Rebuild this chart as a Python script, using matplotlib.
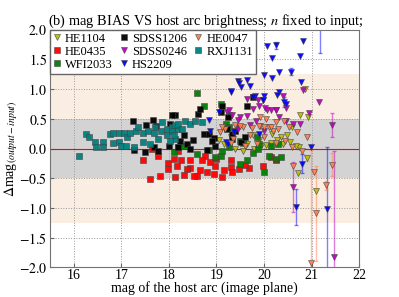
import numpy as np
import matplotlib
matplotlib.use('Agg')
import matplotlib.pyplot as plt

plt.rcParams['font.family'] = ['Liberation Serif', 'DejaVu Serif']
plt.rcParams['mathtext.fontset'] = 'stix'
plt.rcParams['font.size'] = 8.6

# --- data (mag of host arc, delta mag, error) ---
he1104_x = [20.86, 20.92, 20.75, 20.59, 20.48, 20.17, 20.35, 19.76, 19.93, 20.55, 20.73, 20.9, 20.71,
            21.1, 20.68, 19.05, 19.16, 19.3, 19.65, 19.8, 19.9, 20.05, 20.15, 20.28, 20.4, 19.4, 19.55]
he1104_y = [1.0, 0.53, 0.56, 0.36, 0.22, 0.25, 0.19, 0.22, 0.05, 0.11, 0.02, -0.16, -0.42,
            -0.72, 0.05, 0.15, 0.08, 0.2, 0.08, 0.0, 0.14, 0.06, 0.1, 0.15, 0.08, 0.0, -0.05]
he1104_e = [0, 0, 0, 0, 0, 0, 0, 0, 0, 0, 0, 0.05, 0,
            0, 0, 0, 0, 0, 0, 0, 0, 0, 0, 0, 0, 0, 0]

he0435_x = [17.46, 17.6, 17.82, 17.78, 17.65, 17.98, 17.98, 18.12, 18.17, 18.31, 18.45, 18.45, 18.59,
            18.26, 18.38, 18.52, 18.66, 18.77, 18.87, 18.98, 19.12, 19.16, 19.3, 19.3, 19.47, 19.69,
            19.97, 20.15, 20.25, 18.8, 19.33, 18.2, 18.1, 18.7, 19.0, 19.6, 18.95]
he0435_y = [-0.19, -0.51, -0.46, -0.12, -0.0, -0.25, -0.34, -0.48, -0.29, -0.44, -0.2, -0.32, -0.46,
            -0.2, -0.34, -0.46, -0.37, -0.12, -0.23, -0.3, -0.48, -0.37, -0.2, -0.31, -0.34, -0.33,
            -0.29, -0.15, -0.2, -0.4, -0.4, -0.05, -0.17, -0.2, -0.17, -0.28, -0.43]

wfi2033_x = [18.59, 18.75, 19.09, 19.26, 18.31, 18.1, 18.2, 18.59, 18.84, 18.98, 19.09, 19.12, 19.26,
             19.49, 19.65, 19.76, 19.87, 19.9, 20.0, 20.11, 20.25, 20.36, 19.2, 19.26, 19.5, 19.85,
             19.55, 20.15, 20.3]
wfi2033_y = [0.93, 0.71, 0.75, 0.56, 0.05, -0.06, 0.02, -0.1, -0.03, -0.15, -0.12, -0.05, 0.02,
             -0.26, -0.2, -0.08, 0.0, 0.08, -0.4, -0.12, -0.17, -0.15, 0.42, 0.36, 0.12, 0.19,
             0.1, 0.05, 0.08]

sdss1206_x = [17.25, 17.27, 17.5, 17.53, 17.67, 17.74, 17.69, 17.78, 18.0, 18.12, 18.03, 18.61, 18.66,
              19.12, 19.09, 19.65, 18.73, 18.84, 18.8, 18.94, 18.98, 19.23, 19.25, 19.33, 19.51, 18.38,
              18.45, 18.24, 18.2, 18.31, 19.76, 19.33, 19.61, 18.06, 19.4, 18.5, 18.9]
sdss1206_y = [0.47, -0.03, -0.06, 0.4, 0.48, 0.38, 0.03, -0.05, 0.05, 0.56, 0.42, 0.58, 0.67,
              0.71, 0.61, 0.72, 0.25, 0.25, -0.03, 0.18, 0.05, 0.33, 0.53, 0.16, 0.11, 0.08,
              0.0, 0.13, 0.02, 0.22, 0.86, 0.25, 0.19, 0.56, 0.3, 0.15, 0.12]

sdss0246_x = [20.83, 21.16, 21.42, 20.39, 20.94, 20.75, 20.15, 20.25, 20.32, 20.46, 19.76, 19.9, 19.65,
              19.87, 20.02, 20.07, 20.25, 20.46, 20.62, 19.23, 19.26, 19.33, 19.46, 19.5, 19.46, 19.45,
              19.65, 19.84, 20.62, 21.48, 20.0, 19.7]
sdss0246_y = [0.99, 0.78, 0.39, 0.88, 0.6, 0.42, 0.64, 0.64, 0.53, 0.47, 0.67, 0.72, 0.84,
              0.81, 0.69, 0.64, 0.64, 0.69, 0.42, 0.62, 0.64, 0.56, 0.48, 0.53, 0.36, 0.33,
              0.55, 0.47, -0.65, -1.83, 0.3, 0.4]
sdss0246_e = [0, 0, 0.2, 0, 0, 0, 0, 0, 0, 0, 0, 0, 0,
              0, 0, 0, 0, 0, 0, 0, 0, 0, 0, 0, 0, 0,
              0, 0, 0.42, 1.78, 0, 0]

hs2209_x = [20.07, 20.25, 20.17, 20.82, 20.75, 21.18, 20.0, 20.17, 20.32, 20.57, 20.78, 19.81, 20.0,
            19.97, 20.31, 20.43, 19.46, 19.65, 19.51, 19.3, 19.76, 19.99, 20.28, 20.46, 18.87, 18.84,
            19.05, 19.2, 19.25, 19.37, 19.9, 20.8, 20.67, 21.33, 20.98, 19.3, 19.47, 19.7]
hs2209_y = [1.72, 1.74, 1.53, 1.81, 1.56, 2.3, 1.23, 1.19, 1.29, 1.29, 1.12, 0.89, 0.88,
            0.82, 0.95, 0.78, 1.13, 1.16, 1.03, 0.97, 0.87, 0.81, 0.9, 0.75, 0.3, 0.48,
            0.61, 0.11, 0.08, 0.27, 0.25, -0.26, -0.99, -1.02, 0.02, 0.95, 1.1, 1.05]
hs2209_e = [0, 0.06, 0, 0, 0, 0.7, 0, 0, 0, 0.06, 0, 0, 0,
            0, 0, 0.08, 0, 0, 0, 0, 0, 0, 0, 0, 0, 0,
            0, 0, 0, 0, 0, 0.16, 0.3, 1.05, 0, 0, 0, 0]

he0047_x = [19.07, 19.18, 19.35, 19.56, 19.7, 19.91, 20.05, 20.1, 20.2, 20.3, 20.43, 20.53, 20.7,
            20.91, 19.12, 19.4, 19.5, 19.75, 19.9, 20.15, 20.0, 19.6, 20.62, 21.05, 21.3, 21.44,
            21.1, 20.98, 20.25, 19.3, 19.85, 20.45, 20.6, 20.8, 19.91, 20.25, 20.0]
he0047_y = [0.28, 0.33, 0.16, 0.36, 0.22, 0.38, 0.5, 0.36, 0.3, 0.32, 0.47, 0.36, 0.28,
            0.19, 0.36, 0.4, 0.38, 0.34, 0.38, 0.37, 0.2, 0.05, -0.29, -0.4, -0.62, -0.27,
            -1.09, -1.93, 0.1, 0.1, 0.08, 0.12, 0.02, -0.05, 0.53, 0.45, 0.36]
he0047_e = [0, 0, 0, 0, 0, 0, 0, 0, 0, 0, 0, 0, 0,
            0, 0, 0, 0, 0, 0, 0, 0, 0, 0, 0, 0.08, 0.2,
            0.8, 1.9, 0, 0, 0, 0, 0, 0, 0, 0, 0]

rxj1131_x = [16.12, 16.26, 16.32, 16.44, 16.47, 16.61, 16.61, 16.76, 16.83, 16.83, 16.95, 16.95, 16.99,
             17.06, 17.13, 17.11, 17.18, 17.27, 17.32, 17.36, 17.45, 17.45, 17.57, 17.6, 17.68, 17.71,
             17.78, 17.85, 17.84, 17.96, 17.96, 18.06, 18.12, 18.17, 18.12, 18.2, 18.35, 18.45, 18.56,
             18.7, 18.06, 18.1, 18.03, 18.27]
rxj1131_y = [-0.13, 0.25, 0.19, 0.11, 0.02, 0.11, 0.02, 0.25, 0.26, 0.09, 0.26, 0.11, 0.05,
             0.26, 0.2, 0.05, 0.26, 0.03, 0.29, 0.36, 0.26, 0.11, 0.3, 0.08, 0.26, 0.36,
             0.16, 0.44, 0.29, 0.33, 0.22, 0.36, 0.16, 0.33, 0.39, 0.42, 0.46, 0.42, 0.46,
             0.44, 0.3, 0.22, 0.13, 0.33]

fig = plt.figure(figsize=(3.99, 2.97), dpi=100)
ax = fig.add_axes([0.125, 0.1, 0.775, 0.8])

ax.axhspan(-0.5, 0.5, color='#d3d3d3', lw=0, zorder=0)
ax.axhspan(0.5, 1.25, color='#faeee2', lw=0, zorder=0)
ax.axhspan(-1.25, -0.5, color='#faeee2', lw=0, zorder=0)
ax.axhline(0, color='r', lw=0.8, zorder=0.6)


def draw(x, y, err, color, marker, label):
    x = np.array(x)
    y = np.array(y)
    if err is not None:
        err = np.array(err)
        m = err > 0
        ax.errorbar(x[m], y[m], yerr=err[m], fmt='none', ecolor=color, alpha=0.5,
                    elinewidth=1, capsize=1.5, zorder=1)
    ax.plot(x, y, ls='none', marker=marker, color=color, ms=4.6, mec='0.25', mew=0.4,
            alpha=0.95, label=label, zorder=2)


draw(he1104_x, he1104_y, he1104_e, '#bcbc00', 'v', 'HE1104')
draw(he0435_x, he0435_y, None, 'r', 's', 'HE0435')
draw(wfi2033_x, wfi2033_y, None, 'g', 's', 'WFI2033')
draw(sdss1206_x, sdss1206_y, None, 'k', 's', 'SDSS1206')
draw(sdss0246_x, sdss0246_y, sdss0246_e, '#bf00bf', 'v', 'SDSS0246')
draw(hs2209_x, hs2209_y, hs2209_e, 'b', 'v', 'HS2209')
draw(he0047_x, he0047_y, he0047_e, 'coral', 'v', 'HE0047')
draw(rxj1131_x, rxj1131_y, None, '#008080', 's', 'RXJ1131')

ax.set_xlim(15.5, 22)
ax.set_ylim(-2.0, 2.0)
ax.set_xticks([16, 17, 18, 19, 20, 21, 22])
ax.set_yticks([-2.0, -1.5, -1.0, -0.5, 0.0, 0.5, 1.0, 1.5, 2.0])
ax.set_yticklabels(['$-2.0$', '$-1.5$', '$-1.0$', '$-0.5$', '$0.0$', '$0.5$', '$1.0$', '$1.5$', '$2.0$'],
                   fontsize=10)
ax.set_xticklabels(['16', '17', '18', '19', '20', '21', '22'], fontsize=10)
ax.tick_params(axis='y', direction='in', length=3, color='0.4', pad=2)
ax.tick_params(axis='x', direction='in', length=3, color='0.4', pad=1.5)
ax.grid(True, ls=':', color='0.6', lw=0.7)
ax.set_axisbelow(True)
for s in ax.spines.values():
    s.set_color('0.45')

ax.set_xlabel('mag of the host arc (image plane)', labelpad=-1, fontsize=10)
ax.set_ylabel(r'$\Delta$mag$_{(output-input)}$', labelpad=-1, fontsize=10)
ax.set_title('(b) mag BIAS VS host arc brightness; $n$ fixed to input;', loc='left',
             pad=1, x=-0.005)

ax.legend(ncol=3, loc='upper left', numpoints=1, borderaxespad=0, handlelength=0.6,
          handletextpad=0.35, columnspacing=0.6, labelspacing=0.08, borderpad=0.25,
          fancybox=False, edgecolor='0.4', framealpha=1, fontsize=9)

fig.savefig('out.png', dpi=100)
